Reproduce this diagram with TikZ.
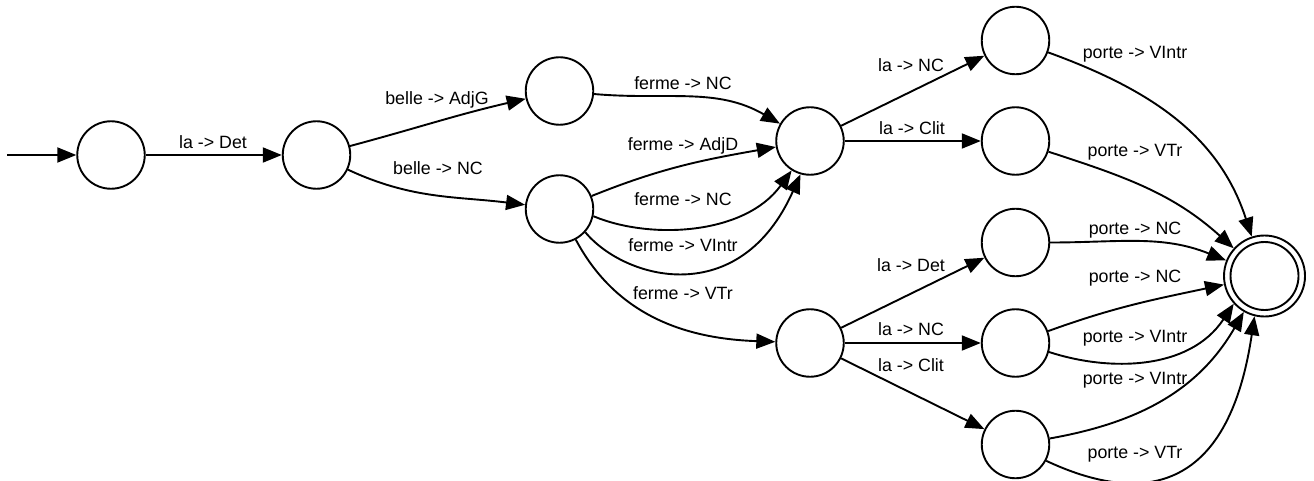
\documentclass[tikz,border=0pt]{standalone}
\usepackage{fontspec}
\setmainfont{Liberation Sans}
\usetikzlibrary{arrows.meta}
\begin{document}
\begin{tikzpicture}[x=1pt,y=-1pt,
  state/.style={circle,draw,line width=1.9pt,minimum size=67.5pt,inner sep=0pt},
  finalstate/.style={circle,draw,line width=1.9pt,minimum size=81pt,inner sep=0pt},
  tr/.style={line width=1.9pt,-{Triangle[length=19pt,width=15pt]}},
  lbl/.style={inner sep=0pt,text height=12.7pt,text depth=0pt,font=\fontsize{17.8}{20}\selectfont}]
\useasboundingbox (0,0) rectangle (1314,481);
\node[state] (A) at (111,155) {};
\node[state] (B) at (316.5,155) {};
\node[state] (C) at (559.5,91) {};
\node[state] (D) at (559.5,209) {};
\node[state] (E) at (810,141) {};
\node[state] (H) at (810,343) {};
\node[state] (F) at (1015.5,40.5) {};
\node[state] (G) at (1015.5,141) {};
\node[state] (I) at (1015.5,242.5) {};
\node[state] (J) at (1015.5,343) {};
\node[state] (K) at (1015.5,444.5) {};
\node[finalstate] (L) at (1264.5,276) {};
\draw[line width=1.9pt] (L.center) circle (34);
\coordinate (S) at (7,155);
% edges
\draw[tr] (S) -- (A);
\draw[tr] (A) -- (B);
\draw[tr] (B) to[out=15,in=193] (C);
\draw[tr] (B) to[out=-25,in=173] (D);
\draw[tr] (C) to[out=-5,in=150] (E);
\draw[tr] (D) to[out=22,in=190] (E);
\draw[tr] (D.-12) .. controls +(56.7,23.8) and +(-46.7,64.7) .. (E.238);
\draw[tr] (D.-42) .. controls +(40,48) and +(-60.5,136) .. (E.254);
\draw[tr] (D) to[out=-62,in=178] (H);
\draw[tr] (E) -- (F);
\draw[tr] (E) -- (G);
\draw[tr] (H) -- (I);
\draw[tr] (H) -- (J);
\draw[tr] (H) -- (K);
\draw[tr] (F) to[out=-20,in=108] (L);
\draw[tr] (G) to[out=-18,in=138] (L);
\draw[tr] (I) to[out=0,in=158] (L);
\draw[tr] (J) to[out=20,in=192] (L);
\draw[tr] (J.-15) .. controls +(61,20) and +(-43.7,66.3) .. (L.222);
\draw[tr] (K) to[out=10,in=240] (L);
\draw[tr] (K.-28) .. controls +(94,44) and +(-26.5,179) .. (L.256);
% labels
\node[lbl] (l1) at (213,142) {la -> Det};
\node[lbl] (l2) at (437,98) {belle -> AdjG};
\node[lbl] (l3) at (438,168) {belle -> NC};
\node[lbl] (l4) at (683,83) {ferme -> NC};
\node[lbl] (l5) at (683,144) {ferme -> AdjD};
\node[lbl] (l6) at (683,199) {ferme -> NC};
\node[lbl] (l7) at (683,245) {ferme -> VIntr};
\node[lbl] (l8) at (683,293) {ferme -> VTr};
\node[lbl] (l9) at (911,65) {la -> NC};
\node[lbl] (l10) at (912,128) {la -> Clit};
\node[lbl] (l11) at (1135,52) {porte -> VIntr};
\node[lbl] (l12) at (1135,150) {porte -> VTr};
\node[lbl] (l13) at (1135,228) {porte -> NC};
\node[lbl] (l14) at (911,265) {la -> Det};
\node[lbl] (l15) at (1135,276) {porte -> NC};
\node[lbl] (l16) at (911,329) {la -> NC};
\node[lbl] (l17) at (1135,336) {porte -> VIntr};
\node[lbl] (l18) at (911,365) {la -> Clit};
\node[lbl] (l19) at (1135,378) {porte -> VIntr};
\node[lbl] (l20) at (1135,452) {porte -> VTr};
\end{tikzpicture}
\end{document}
